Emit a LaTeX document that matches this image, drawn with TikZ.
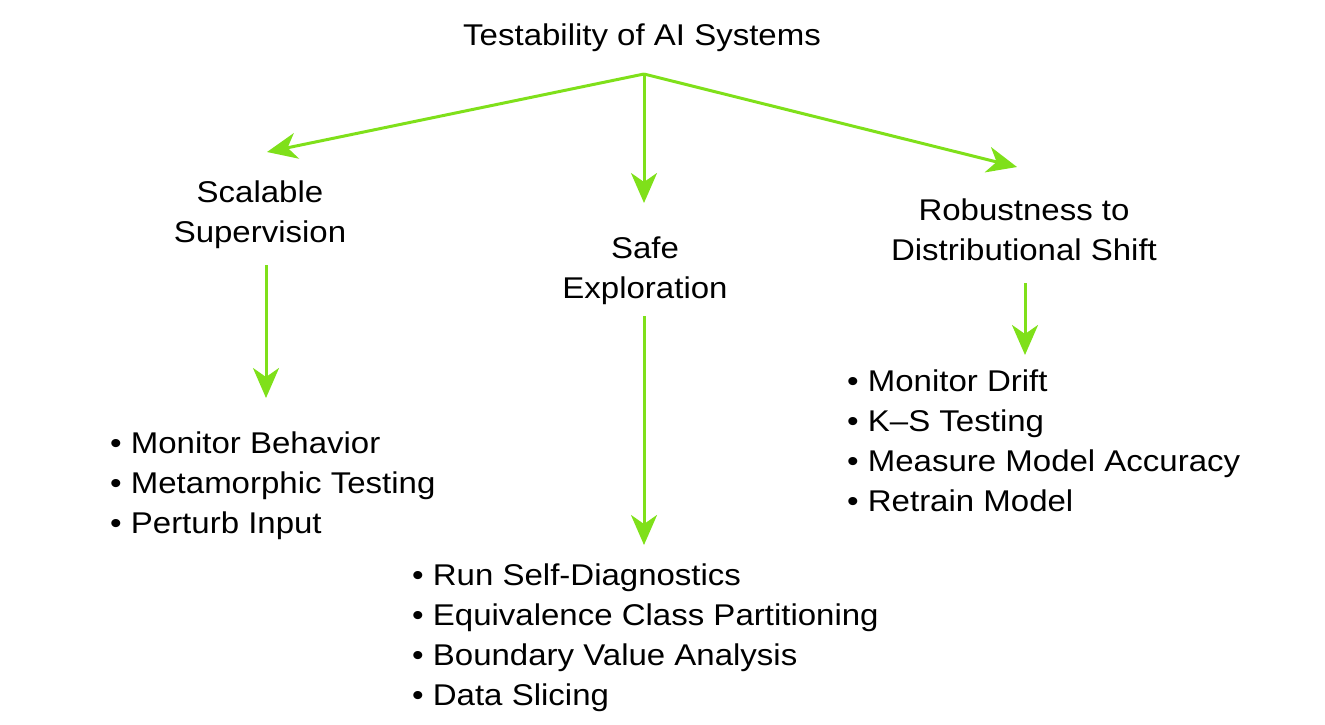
\documentclass[tikz,border=0pt]{standalone}
\usepackage{fontspec}
\setmainfont{Liberation Sans}[FakeStretch=1.1]
\usetikzlibrary{arrows.meta}
\definecolor{leaf}{RGB}{127,224,26}
\begin{document}
\begin{tikzpicture}[x=1pt,y=-1pt,
  every node/.style={inner sep=0pt,font=\fontsize{30}{40}\selectfont},
  head/.style={anchor=base,align=center},
  items/.style={anchor=base west,align=left},
  link/.style={draw=leaf,line width=3pt,-{Stealth[length=30pt,width=26pt,inset=9pt]}}]
\useasboundingbox (0,0) rectangle (1325,724);
% title
\node[anchor=base] (title) at (642,45) {Testability of AI Systems};
% headings (base anchor = baseline of last line)
\node[head] (scal) at (260,242) {Scalable\\Supervision};
\node[head] (safe) at (645,298) {Safe\\Exploration};
\node[head] (rob) at (1024,260) {Robustness to\\Distributional Shift};
% lists
\node[items] (l1) at (110,533) {• Monitor Behavior\\• Metamorphic Testing\\• Perturb Input};
\node[items] (l2) at (412,705) {• Run Self-Diagnostics\\• Equivalence Class Partitioning\\• Boundary Value Analysis\\• Data Slicing};
\node[items] (l3) at (847,511) {• Monitor Drift\\• K–S Testing\\• Measure Model Accuracy\\• Retrain Model};
% connector ends
\coordinate (apex) at (644,74);
\coordinate (tscal) at (267,152);
\coordinate (tsafe) at (644,203);
\coordinate (trob) at (1017,167);
\coordinate (fscal) at (266,265);
\coordinate (hscal) at (266,398);
\coordinate (fsafe) at (644,316);
\coordinate (hsafe) at (644,545);
\coordinate (frob) at (1025,283);
\coordinate (hrob) at (1025,355);
% connectors
\draw[link] (apex) -- (tscal);
\draw[link] (apex) -- (tsafe);
\draw[link] (apex) -- (trob);
\draw[link] (fscal) -- (hscal);
\draw[link] (fsafe) -- (hsafe);
\draw[link] (frob) -- (hrob);
\end{tikzpicture}
\end{document}
